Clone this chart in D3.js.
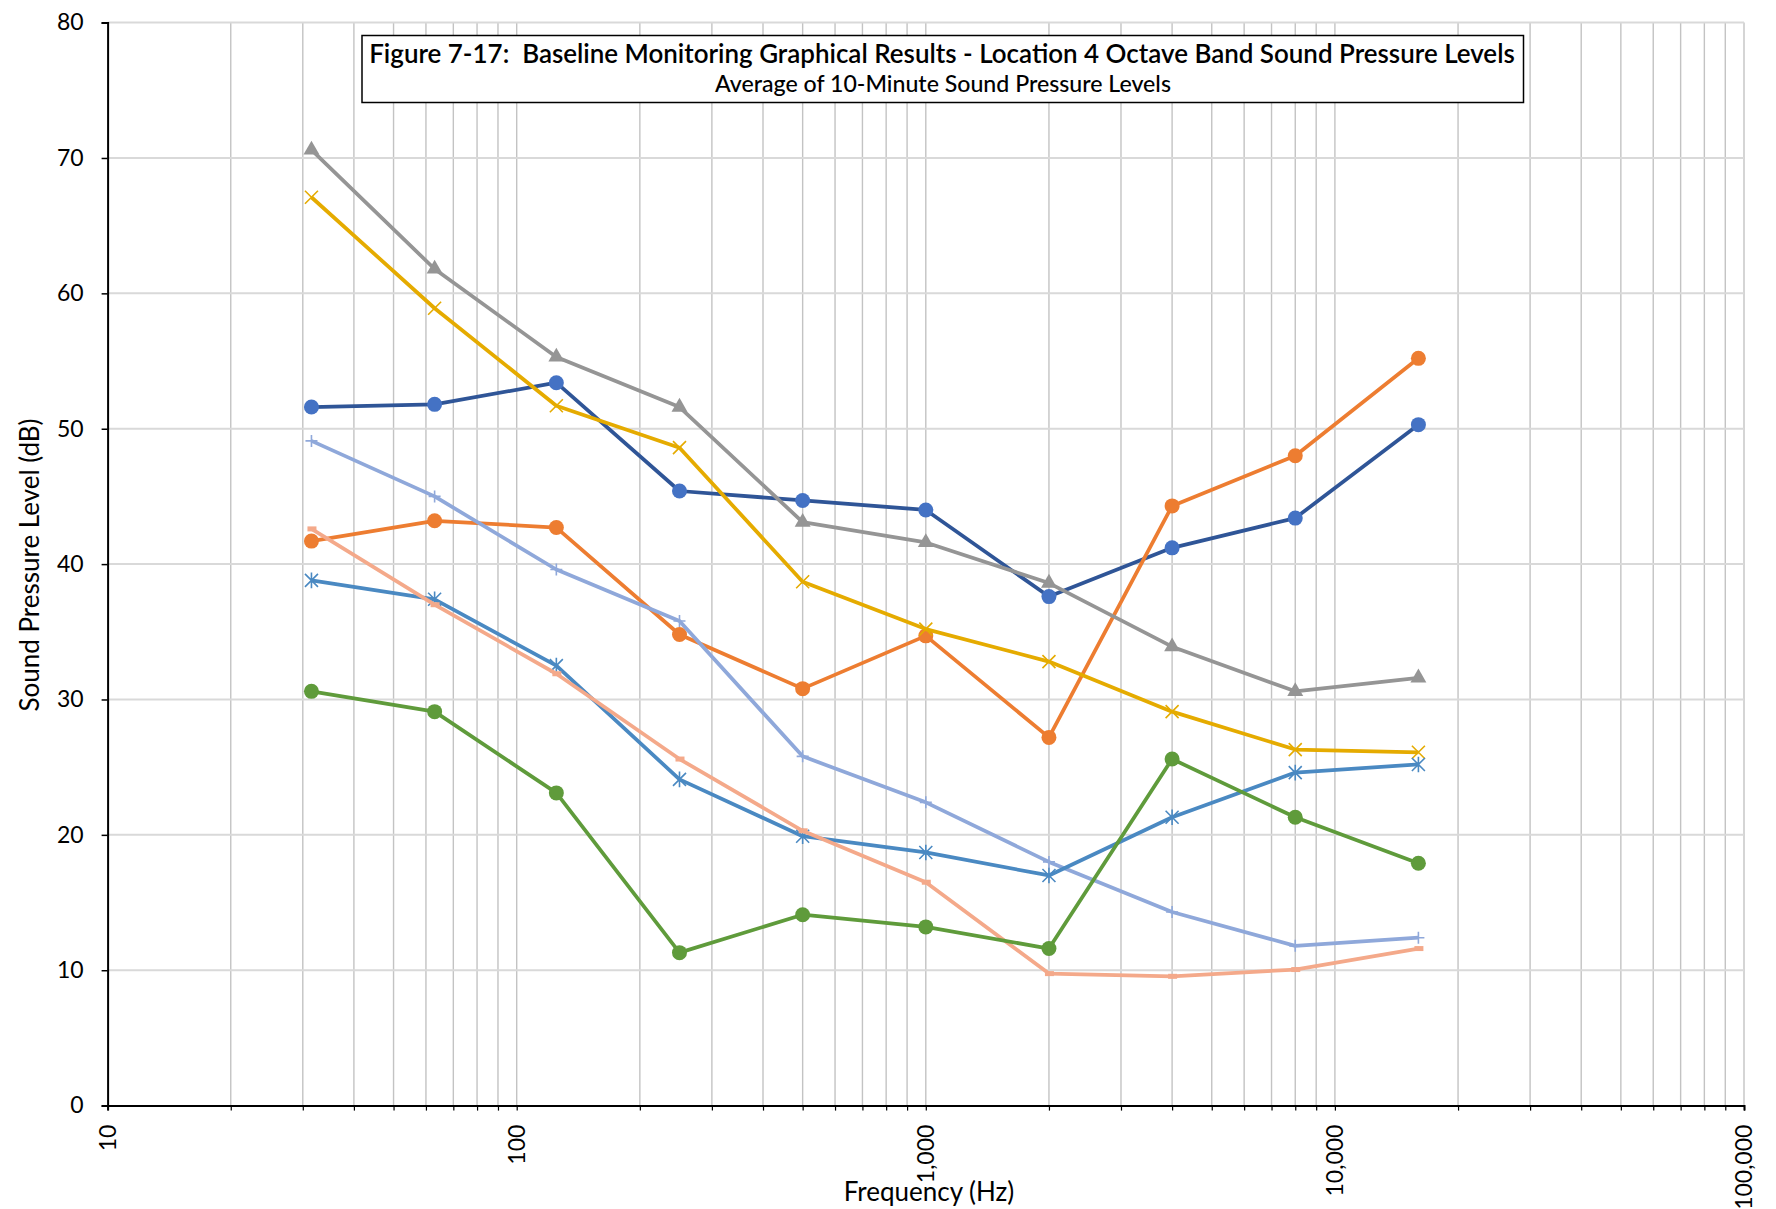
<!DOCTYPE html>
<html>
<head>
<meta charset="utf-8">
<script src="https://cdn.jsdelivr.net/npm/d3@7"></script>
<style>
  html, body { margin: 0; padding: 0; background: #fff; }
  svg { display: block; }
  text { font-family: Lato, "Open Sans", sans-serif; fill: #000; }
</style>
</head>
<body>
<svg id="chart" width="1776" height="1209"></svg>
<script>
// Octave band centre frequencies (Hz)
const frequencies = [31.5, 63, 125, 250, 500, 1000, 2000, 4000, 8000, 16000];

// Average sound pressure level per octave band (dB), one array per series
const levelsBlue       = [51.6, 51.8, 53.4, 45.4, 44.7, 44.0, 37.6, 41.2, 43.4, 50.3];
const levelsOrange     = [41.7, 43.2, 42.7, 34.8, 30.8, 34.7, 27.2, 44.3, 48.0, 55.2];
const levelsGray       = [70.6, 61.8, 55.3, 51.6, 43.1, 41.6, 38.6, 33.9, 30.6, 31.6];
const levelsGold       = [67.1, 58.9, 51.7, 48.6, 38.7, 35.2, 32.8, 29.1, 26.3, 26.1];
const levelsPeriwinkle = [49.1, 45.0, 39.6, 35.8, 25.8, 22.4, 18.0, 14.3, 11.8, 12.4];
const levelsSteel      = [38.8, 37.4, 32.5, 24.1, 19.9, 18.7, 17.0, 21.3, 24.6, 25.2];
const levelsSalmon     = [42.6, 37.0, 31.9, 25.6, 20.3, 16.5, 9.75, 9.55, 10.05, 11.6];
const levelsGreen      = [30.6, 29.1, 23.1, 11.3, 14.1, 13.2, 11.6, 25.6, 21.3, 17.9];

// Axis ticks
const yTicks = [0, 10, 20, 30, 40, 50, 60, 70, 80];
const xMajorTicks = [10, 100, 1000, 10000, 100000];

const titleLine1 = "Figure 7-17:  Baseline Monitoring Graphical Results - Location 4 Octave Band Sound Pressure Levels";
const titleLine2 = "Average of 10-Minute Sound Pressure Levels";
const xTitle = "Frequency (Hz)";
const yTitle = "Sound Pressure Level (dB)";

// Series styling (drawing order = list order)
const series = [
  { values: levelsBlue,       line: "#2f5597", fill: "#4472c4", marker: "circle" },
  { values: levelsOrange,     line: "#ed7d31", fill: "#ed7d31", marker: "circle" },
  { values: levelsGray,       line: "#959595", fill: "#959595", marker: "triangle" },
  { values: levelsGold,       line: "#e5ab00", fill: "#e5ab00", marker: "x" },
  { values: levelsPeriwinkle, line: "#8fa8da", fill: "#8fa8da", marker: "plus" },
  { values: levelsSteel,      line: "#4a89c2", fill: "#4a89c2", marker: "asterisk" },
  { values: levelsSalmon,     line: "#f4a98a", fill: "#f4a98a", marker: "dash" },
  { values: levelsGreen,      line: "#5f9b3b", fill: "#5f9b3b", marker: "circle" }
];

const plot = { left: 107.6, right: 1744, top: 22.6, bottom: 1105.6 };

const svg = d3.select("#chart");

const x = d3.scaleLog().domain([10, 100000]).range([plot.left, plot.right]);
const y = d3.scaleLinear().domain([0, 80]).range([plot.bottom, plot.top]);

// all 1..9 multiples of each decade for the vertical grid
const xGridValues = [];
for (let d = 10; d < 100000; d *= 10) {
  for (let m = 1; m <= 9; m++) xGridValues.push(d * m);
}
xGridValues.push(100000);

// vertical grid
svg.append("g")
  .selectAll("line")
  .data(xGridValues.filter(v => v > 10))
  .join("line")
  .attr("x1", d => x(d)).attr("x2", d => x(d))
  .attr("y1", plot.top).attr("y2", plot.bottom)
  .attr("stroke", "#c3c3c3")
  .attr("stroke-width", 1.4);

// horizontal grid
svg.append("g")
  .selectAll("line")
  .data(yTicks.filter(v => v > 0))
  .join("line")
  .attr("x1", plot.left).attr("x2", plot.right)
  .attr("y1", d => y(d)).attr("y2", d => y(d))
  .attr("stroke", "#d9d9d9")
  .attr("stroke-width", 2);

// y axis
const yAxis = d3.axisLeft(y).tickValues(yTicks).tickSize(6).tickPadding(18).tickFormat(d3.format("d"));
const gy = svg.append("g").attr("transform", `translate(${plot.left},0)`).call(yAxis);
gy.select(".domain").attr("stroke", "#000").attr("stroke-width", 2);
gy.selectAll(".tick line").attr("stroke", "#000").attr("stroke-width", 1.5);
gy.selectAll(".tick text")
  .style("font-family", "Lato, sans-serif")
  .style("font-size", "23px")
  .attr("fill", "#000");

// x axis: small ticks at every grid position, labels on decades
const xAxis = d3.axisBottom(x).tickValues(xGridValues).tickSize(5).tickFormat("");
const gx = svg.append("g").attr("transform", `translate(0,${plot.bottom})`).call(xAxis);
gx.select(".domain").attr("stroke", "#000").attr("stroke-width", 2);
gx.selectAll(".tick line").attr("stroke", "#000").attr("stroke-width", 1.2);

svg.append("g")
  .selectAll("text")
  .data(xMajorTicks)
  .join("text")
  .attr("transform", d => `translate(${x(d)},${plot.bottom + 19}) rotate(-90)`)
  .attr("text-anchor", "end")
  .attr("dy", "0.35em")
  .style("font-size", "23px")
  .text(d3.format(","));

// axis titles
svg.append("text")
  .attr("x", 929).attr("y", 1201)
  .attr("text-anchor", "middle")
  .style("font-size", "26px")
  .text(xTitle);

svg.append("text")
  .attr("transform", "translate(39,565) rotate(-90)")
  .attr("text-anchor", "middle")
  .style("font-size", "26px")
  .text(yTitle);

// series lines
const line = d3.line()
  .x((d, i) => x(frequencies[i]))
  .y(d => y(d));

const gSeries = svg.append("g");

function drawMarker(g, s, cx, cy) {
  const m = g.append("g").attr("transform", `translate(${cx},${cy})`);
  if (s.marker === "circle") {
    m.append("circle").attr("r", 7.5).attr("fill", s.fill);
  } else if (s.marker === "triangle") {
    m.append("path")
      .attr("d", d3.symbol().type(d3.symbolTriangle).size(110)())
      .attr("fill", s.fill);
  } else if (s.marker === "x") {
    const r = 6.5;
    m.append("path")
      .attr("d", `M${-r},${-r}L${r},${r}M${-r},${r}L${r},${-r}`)
      .attr("stroke", s.fill).attr("stroke-width", 1.6).attr("fill", "none");
  } else if (s.marker === "plus") {
    const r = 6;
    m.append("path")
      .attr("d", `M${-r},0L${r},0M0,${-r}L0,${r}`)
      .attr("stroke", s.fill).attr("stroke-width", 1.6).attr("fill", "none");
  } else if (s.marker === "asterisk") {
    const r = 6.5;
    m.append("path")
      .attr("d", `M${-r},${-r}L${r},${r}M${-r},${r}L${r},${-r}M0,${-r * 1.2}L0,${r * 1.2}`)
      .attr("stroke", s.fill).attr("stroke-width", 1.6).attr("fill", "none");
  } else if (s.marker === "dash") {
    m.append("rect").attr("x", -4).attr("y", -2.5).attr("width", 9).attr("height", 5)
      .attr("fill", s.fill);
  }
}

series.forEach(s => {
  const g = gSeries.append("g");
  g.append("path")
    .datum(s.values)
    .attr("d", line)
    .attr("fill", "none")
    .attr("stroke", s.line)
    .attr("stroke-width", 3.75)
    .attr("stroke-linejoin", "round");
  s.values.forEach((v, i) => drawMarker(g, s, x(frequencies[i]), y(v)));
});

// title box
const box = { x: 362, y: 35.5, w: 1161.5, h: 67 };
const gTitle = svg.append("g");
gTitle.append("rect")
  .attr("x", box.x).attr("y", box.y).attr("width", box.w).attr("height", box.h)
  .attr("fill", "#fff").attr("stroke", "#000").attr("stroke-width", 1.5);

const t1 = gTitle.append("text")
  .attr("x", 942).attr("y", 63)
  .attr("text-anchor", "middle")
  .style("font-size", "21px").style("font-weight", 600)
  .style("white-space", "pre")
  .text(titleLine1);
const t2 = gTitle.append("text")
  .attr("x", 943).attr("y", 92)
  .attr("text-anchor", "middle")
  .style("font-size", "18px").style("font-weight", 500)
  .text(titleLine2);

// size the header lines so each spans its share of the box
function fitWidth(sel, target, base) {
  const w = sel.node().getComputedTextLength();
  if (w > 0) sel.style("font-size", (base * target / w).toFixed(2) + "px");
}
fitWidth(t1, 1146, 21);
fitWidth(t2, 456, 18);
</script>
</body>
</html>
